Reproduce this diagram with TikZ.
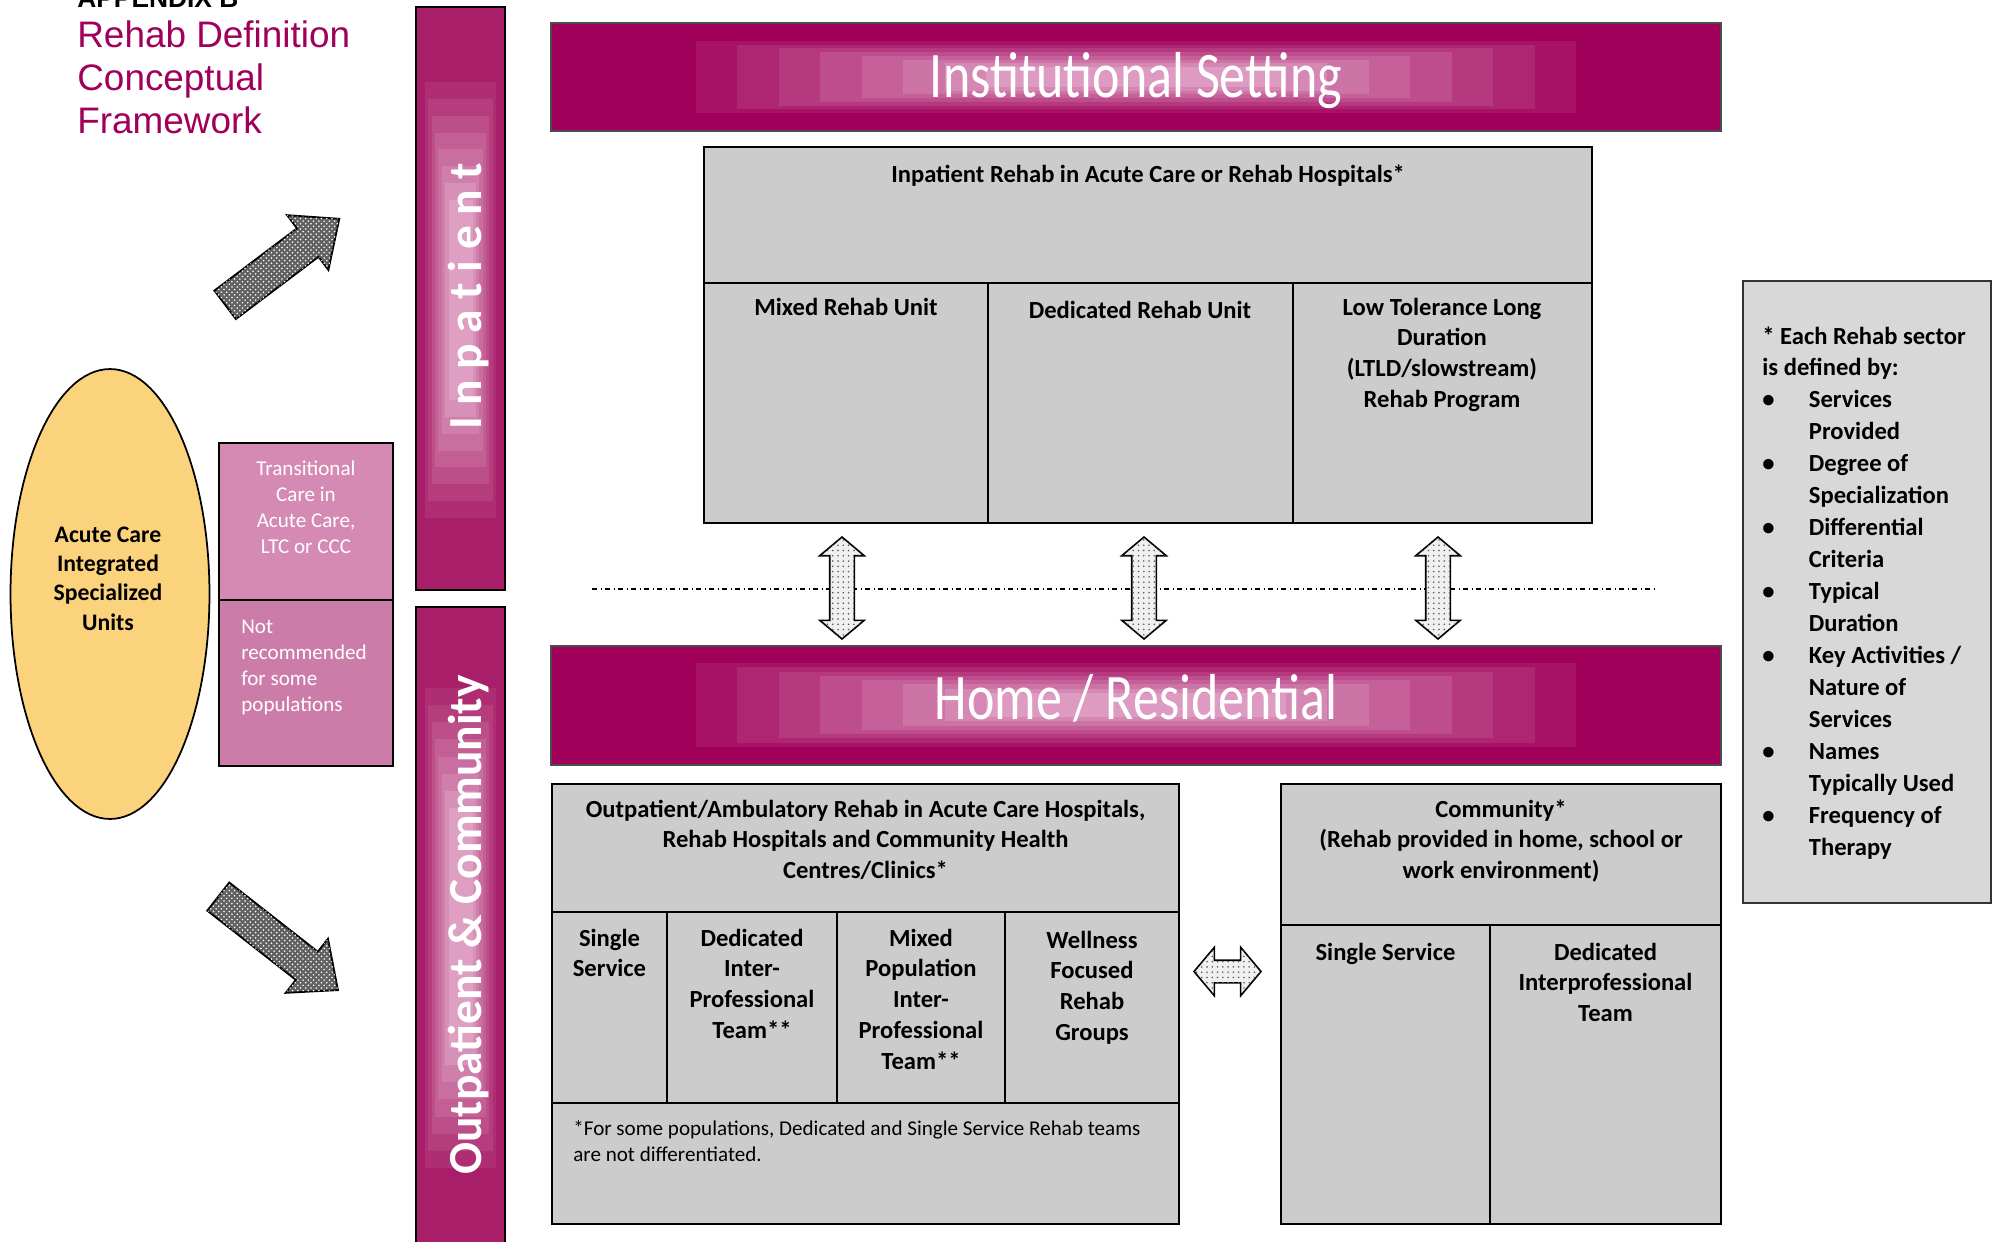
\documentclass[tikz,border=0pt]{standalone}
\usepackage{fontspec}
\setmainfont{Carlito}
\newfontfamily\headfont{Liberation Sans}
\usetikzlibrary{shapes.geometric,shapes.arrows,patterns}

\definecolor{rehabmag}{RGB}{160,0,90}
\definecolor{barmag}{RGB}{168,30,104}
\definecolor{glowpink}{RGB}{232,184,212}
\definecolor{cellgray}{RGB}{204,204,204}
\definecolor{legendgray}{RGB}{216,216,216}
\definecolor{acuteyellow}{RGB}{252,211,125}
\definecolor{transpink}{RGB}{212,138,178}
\definecolor{notrecpink}{RGB}{204,124,168}

% stacked lines, first baseline is the node base
\newcommand{\cstack}[1]{\begin{tabular}[t]{@{}c@{}}#1\end{tabular}}
\newcommand{\lstack}[1]{\begin{tabular}[t]{@{}l@{}}#1\end{tabular}}

% stepped glow: colour, cx, cy, outer half w/h, inner half w/h
\newcommand{\glowfill}[7]{%
  \foreach \k in {1,...,8}{%
    \pgfmathsetmacro{\hw}{#4-(#4-#6)*(\k-1)/7}%
    \pgfmathsetmacro{\hh}{#5-(#5-#7)*(\k-1)/7}%
    \pgfmathtruncatemacro{\mix}{10+(\k-1)*10.7}%
    \fill[glowpink!\mix!#1] (#2-\hw,#3-\hh) rectangle (#2+\hw,#3+\hh);
  }}

\tikzset{
  cellbox/.style={draw=black, line width=1.1pt, fill=cellgray},
  cellline/.style={draw=black, line width=1.1pt},
  celltext/.style={anchor=base, inner sep=0pt, font=\bfseries\fontsize{14}{17.6}\selectfont},
  bannerframe/.style={draw=black!70, line width=0.8pt, fill=rehabmag},
  bannertext/.style={anchor=base, inner sep=0pt, text=white, font=\fontsize{37}{44}\selectfont},
  barframe/.style={draw=black, line width=1.2pt, fill=barmag},
  bartext/.style={rotate=90, anchor=base, inner sep=0pt, text=white, font=\bfseries\fontsize{27}{30}\selectfont},
  pinkbox/.style={draw=black, line width=1.1pt},
  pinktext/.style={inner sep=0pt, text=white, font=\fontsize{12}{14.8}\selectfont},
  bigarrow/.style={single arrow, draw=black, line width=1pt, fill=black!62,
    postaction={pattern=crosshatch dots, pattern color=white}, inner xsep=0pt, inner ysep=0.34cm,
    single arrow head extend=0.33cm, single arrow tip angle=82},
  linkarrow/.style={double arrow, draw=black, line width=0.9pt, fill=gray!12,
    postaction={pattern=dots, pattern color=gray!70!black}, inner xsep=0pt,
    double arrow tip angle=100}
}

\begin{document}
\begin{tikzpicture}[x=0.02cm, y=-0.02cm]

        \useasboundingbox (0,0) rectangle (1995,1241);

        %Title
        \node [anchor=base west, inner sep=0pt, font=\headfont\bfseries\fontsize{15}{18}\selectfont] (appendix) at (77,7) {APPENDIX B};
        \node [anchor=base west, inner sep=0pt, text=rehabmag, font=\headfont\fontsize{21}{24.5}\selectfont] (title) at (77,47)
              {\lstack{Rehab Definition\\Conceptual\\Framework}};

        %Acute care units
        \node [ellipse, draw=black, line width=1pt, fill=acuteyellow, minimum width=3.98cm, minimum height=9cm, inner sep=0pt] (acute) at (110,594) {};
        \node [celltext, font=\bfseries\fontsize{13.5}{16.7}\selectfont] (acutetxt) at (108,542)
              {\cstack{Acute Care\\Integrated\\Specialized\\Units}};

        \draw [pinkbox, fill=transpink]   (219,443) rectangle (393,600);
        \draw [pinkbox, fill=notrecpink]  (219,600) rectangle (393,766);
        \node [pinktext, anchor=base] (transtxt) at (306,475) {\cstack{Transitional\\Care in\\Acute Care,\\LTC or CCC}};
        \node [pinktext, anchor=base west] (notrectxt) at (241,633) {\lstack{Not\\recommended\\for some\\populations}};

        \node [bigarrow, rotate=37,  minimum height=2.86cm] (toinpatient)  at (274,268) {};
        \node [bigarrow, rotate=-38, minimum height=3.04cm] (tooutpatient) at (270,937) {};

        %Side bars
        \draw [barframe] (416,7) rectangle (505,590);
        \glowfill{barmag}{460.5}{300}{35.5}{218}{12}{100}
        \node [bartext] (inpatient) at (481,296) {I n p a t i e n t};

        \draw [barframe] (416,607) rectangle (505,1262);
        \glowfill{barmag}{460.5}{928}{35.5}{240}{12}{120}
        \node [bartext] (outpatient) at (481,925) {Outpatient \& Community};

        %Institutional setting
        \draw [bannerframe] (551,23) rectangle (1721,131);
        \glowfill{rehabmag}{1136}{77}{440}{36}{150}{10}
        \node [bannertext] (institutional) at (1136,97) {\scalebox{0.8}[1]{Institutional Setting}};

        \draw [cellbox]   (704,147) rectangle (1592,523);
        \draw [cellline]  (704,283) -- (1592,283);
        \draw [cellline]  (988,283) -- (988,523);
        \draw [cellline]  (1293,283) -- (1293,523);
        \node [celltext] (inpatienthead) at (1148,182) {Inpatient Rehab in Acute Care or Rehab Hospitals*};
        \node [celltext] (mixedunit)     at (846,315)  {Mixed Rehab Unit};
        \node [celltext] (dedicatedunit) at (1140,318) {Dedicated Rehab Unit};
        \node [celltext] (ltld)          at (1442,315) {\cstack{Low Tolerance Long\\Duration\\(LTLD/slowstream)\\Rehab Program}};

        %Setting boundary
        \draw [dash dot, line width=0.9pt] (592,589) -- (1654,589);
        \node [linkarrow, rotate=90, minimum height=2.04cm, inner ysep=0.23cm, double arrow head extend=0.2cm] (linkmixed)     at (842,588)  {};
        \node [linkarrow, rotate=90, minimum height=2.04cm, inner ysep=0.23cm, double arrow head extend=0.2cm] (linkdedicated) at (1144,588) {};
        \node [linkarrow, rotate=90, minimum height=2.04cm, inner ysep=0.23cm, double arrow head extend=0.2cm] (linkltld)      at (1438,588) {};

        %Home / residential
        \draw [bannerframe] (551,646) rectangle (1721,765);
        \glowfill{rehabmag}{1136}{705}{440}{42}{150}{12}
        \node [bannertext] (home) at (1136,719) {\scalebox{0.8}[1]{Home / Residential}};

        %Outpatient / ambulatory
        \draw [cellbox]   (552,784) rectangle (1179,1224);
        \draw [cellline]  (552,912) -- (1179,912);
        \draw [cellline]  (552,1103) -- (1179,1103);
        \draw [cellline]  (667,912) -- (667,1103);
        \draw [cellline]  (837,912) -- (837,1103);
        \draw [cellline]  (1005,912) -- (1005,1103);
        \node [celltext] (ambulatory) at (865.5,817)
              {\cstack{Outpatient/Ambulatory Rehab in Acute Care Hospitals,\\Rehab Hospitals and Community Health\\Centres/Clinics*}};
        \node [celltext] (oneservice)  at (609.5,946) {\cstack{Single\\Service}};
        \node [celltext] (dedicatedip) at (752,946)   {\cstack{Dedicated\\Inter-\\Professional\\Team**}};
        \node [celltext] (mixedip)     at (921,946)   {\cstack{Mixed\\Population\\Inter-\\Professional\\Team**}};
        \node [celltext] (wellness)    at (1092,948)  {\cstack{Wellness\\Focused\\Rehab\\Groups}};
        \node [anchor=base west, inner sep=0pt, font=\fontsize{12}{14.8}\selectfont] (footnote) at (573,1135)
              {\lstack{*For some populations, Dedicated and Single Service Rehab teams\\are not differentiated.}};

        \node [linkarrow, minimum height=1.34cm, inner ysep=0.21cm, double arrow head extend=0.26cm] (linkcommunity) at (1227.5,971.5) {};

        %Community
        \draw [cellbox]   (1281,784) rectangle (1721,1224);
        \draw [cellline]  (1281,925) -- (1721,925);
        \draw [cellline]  (1490,925) -- (1490,1224);
        \node [celltext] (community) at (1501,817)
              {\cstack{Community*\\(Rehab provided in home, school or\\work environment)}};
        \node [celltext] (commsingle)    at (1385.5,960) {Single Service};
        \node [celltext] (commdedicated) at (1605.5,960) {\cstack{Dedicated\\Interprofessional\\Team}};

        %Sector criteria
        \draw [draw=black!80, line width=1pt, fill=legendgray] (1743,281) rectangle (1991,903);
        \node [anchor=base west, inner sep=0pt, font=\bfseries\fontsize{14}{18.2}\selectfont] (criteria) at (1762,344)
              {\begin{tabular}[t]{@{}p{26.5pt}@{}l@{}}
                \multicolumn{2}{@{}l@{}}{* Each Rehab sector}\\
                \multicolumn{2}{@{}l@{}}{is defined by:}\\
                \textbullet & Services\\ & Provided\\
                \textbullet & Degree of\\ & Specialization\\
                \textbullet & Differential\\ & Criteria\\
                \textbullet & Typical\\ & Duration\\
                \textbullet & Key Activities /\\ & Nature of\\ & Services\\
                \textbullet & Names\\ & Typically Used\\
                \textbullet & Frequency of\\ & Therapy
              \end{tabular}};

\end{tikzpicture}
\end{document}
